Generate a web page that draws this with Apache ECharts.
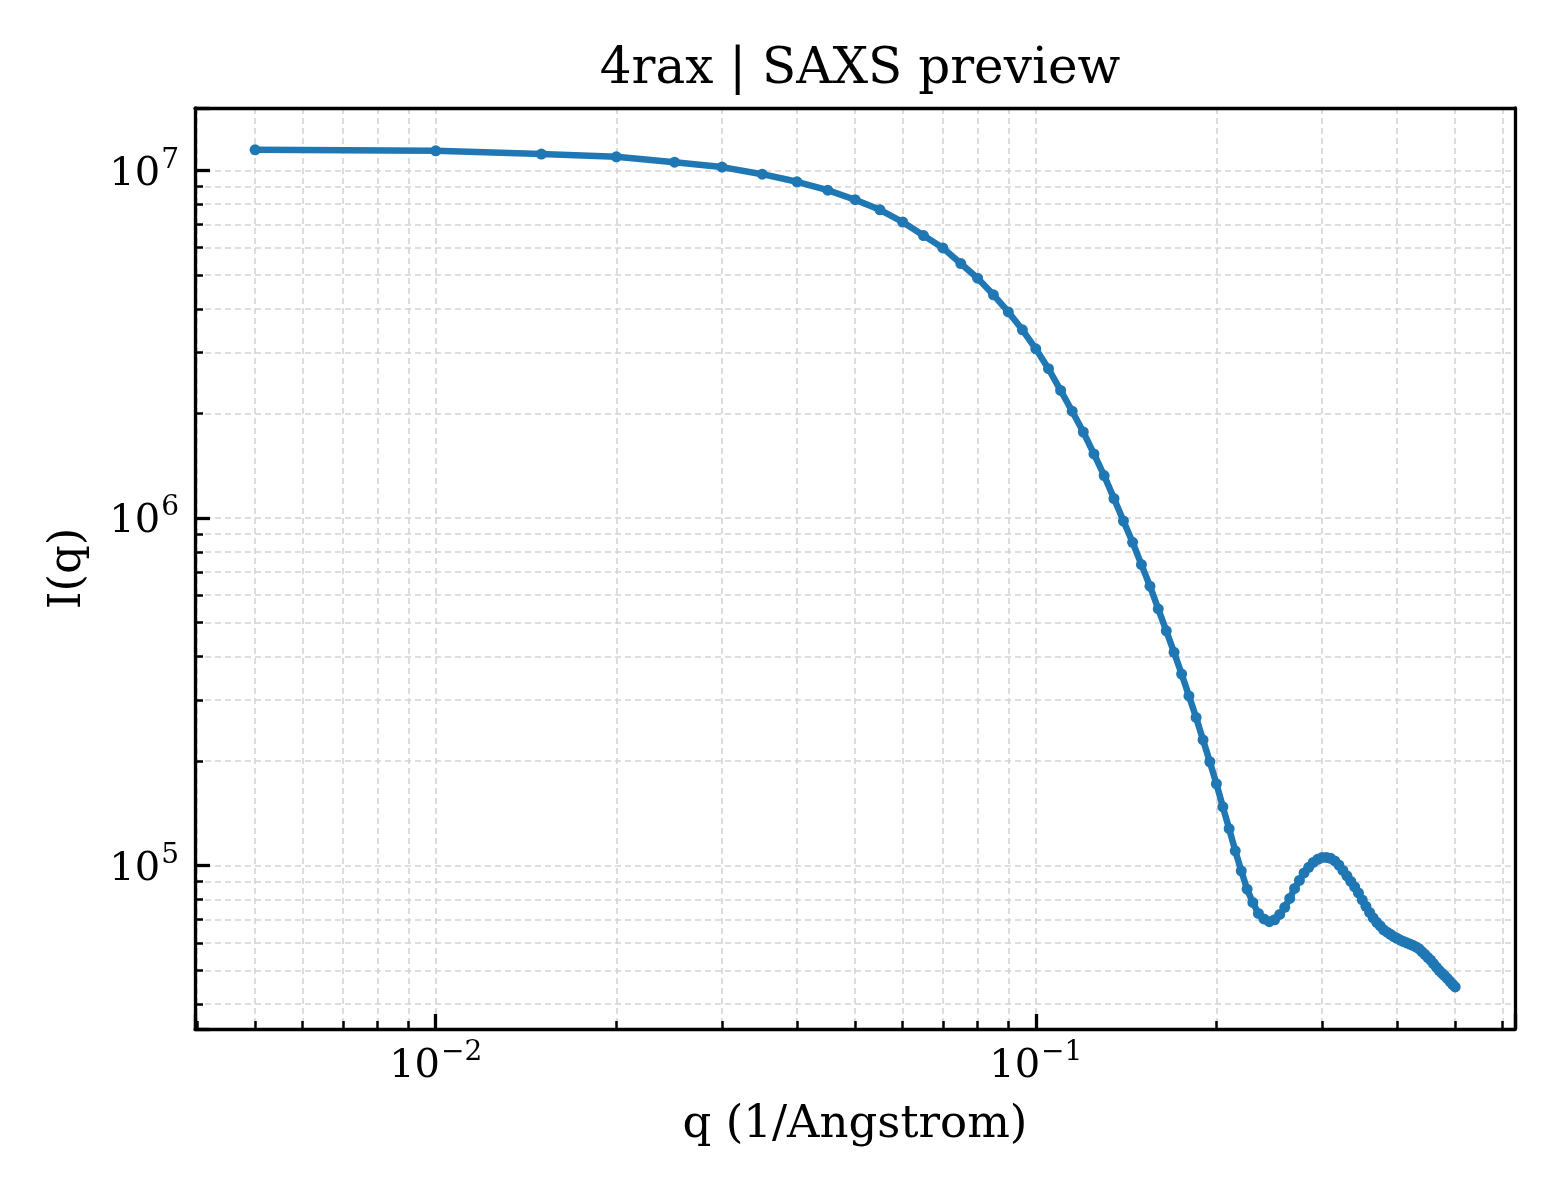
<!DOCTYPE html>
<html>
<head>
<meta charset="utf-8">
<title>4rax | SAXS preview</title>
<script src="https://cdn.jsdelivr.net/npm/echarts@6/dist/echarts.min.js"></script>
<style>
  html, body { margin: 0; padding: 0; background: #fff; }
  #chart { width: 1560px; height: 1200px; }
</style>
</head>
<body>
<div id="chart"></div>
<script>
// q (1/Angstrom)
const qValues = [
  0.005, 0.010, 0.015, 0.020, 0.025, 0.030, 0.035, 0.040, 0.045, 0.050,
  0.055, 0.060, 0.065, 0.070, 0.075, 0.080, 0.085, 0.090, 0.095, 0.100,
  0.105, 0.110, 0.115, 0.120, 0.125, 0.130, 0.135, 0.140, 0.145, 0.150,
  0.155, 0.160, 0.165, 0.170, 0.175, 0.180, 0.185, 0.190, 0.195, 0.200,
  0.205, 0.210, 0.215, 0.220, 0.225, 0.230, 0.235, 0.240, 0.245, 0.250,
  0.255, 0.260, 0.265, 0.270, 0.275, 0.280, 0.285, 0.290, 0.295, 0.300,
  0.305, 0.310, 0.315, 0.320, 0.325, 0.330, 0.335, 0.340, 0.345, 0.350,
  0.355, 0.360, 0.365, 0.370, 0.375, 0.380, 0.385, 0.390, 0.395, 0.400,
  0.405, 0.410, 0.415, 0.420, 0.425, 0.430, 0.435, 0.440, 0.445, 0.450,
  0.455, 0.460, 0.465, 0.470, 0.475, 0.480, 0.485, 0.490, 0.495, 0.500
]
// I(q)
const intensity = [
  1.147e7, 1.139e7, 1.115e7, 1.095e7, 1.057e7, 1.023e7, 9.76e6, 9.28e6, 8.78e6, 8.24e6,
  7.71e6, 7.11e6, 6.50e6, 5.99e6, 5.40e6, 4.90e6, 4.39e6, 3.92e6, 3.48e6, 3.07e6,
  2.69e6, 2.33e6, 2.03e6, 1.769e6, 1.530e6, 1.325e6, 1.138e6, 9.81e5, 8.52e5, 7.35e5,
  6.37e5, 5.48e5, 4.74e5, 4.11e5, 3.56e5, 3.08e5, 2.67e5, 2.30e5, 1.991e5, 1.721e5,
  1.477e5, 1.278e5, 1.104e5, 9.67e4, 8.56e4, 7.84e4, 7.29e4, 7.03e4, 6.90e4, 6.99e4,
  7.24e4, 7.59e4, 8.05e4, 8.60e4, 9.07e4, 9.53e4, 9.89e4, 1.022e5, 1.043e5, 1.056e5,
  1.056e5, 1.050e5, 1.032e5, 1.004e5, 9.69e4, 9.35e4, 9.01e4, 8.69e4, 8.35e4, 7.97e4,
  7.64e4, 7.34e4, 7.08e4, 6.87e4, 6.71e4, 6.54e4, 6.44e4, 6.35e4, 6.25e4, 6.18e4,
  6.11e4, 6.05e4, 6.00e4, 5.95e4, 5.90e4, 5.84e4, 5.77e4, 5.66e4, 5.56e4, 5.45e4,
  5.35e4, 5.23e4, 5.11e4, 5.00e4, 4.91e4, 4.83e4, 4.74e4, 4.65e4, 4.56e4, 4.48e4
]
// axis limits
const xRange = [0.00397, 0.629]
const yRange = [3.39e4, 1.513e7]

const serif = 'DejaVu Serif'
const gridColor = '#d4d4d4'

// only label the powers of ten, matplotlib style 10^n
function powLabel(v){
    let e = Math.log10(v)
    if (Math.abs(e - Math.round(e)) > 1e-6) return ''
    e = Math.round(e)
    return '{b|10}{s|' + String(e).replace('-', '\u2212') + '}'
}
const labelRich = {
    b: { fontFamily: serif, fontSize: 40, color: '#000', verticalAlign: 'bottom', lineHeight: 48 },
    s: { fontFamily: serif, fontSize: 28, color: '#000', verticalAlign: 'bottom', lineHeight: 48, padding: [0, 0, 20, 1] }
}

function logAxis(range, name, extra){
    return Object.assign({
        type: 'log',
        logBase: 10,
        min: range[0],
        max: range[1],
        name: name,
        nameLocation: 'middle',
        nameTextStyle: { fontFamily: serif, fontSize: 45, color: '#000' },
        axisLine: { show: true, lineStyle: { color: '#000', width: 3.3 } },
        axisTick: { show: true, inside: true, length: 15, lineStyle: { color: '#000', width: 3.3 } },
        minorTick: { show: true, splitNumber: 9, length: 8, lineStyle: { color: '#000', width: 2.5 } },
        splitLine: { show: true, lineStyle: { color: gridColor, width: 1.6, type: [6, 4] } },
        minorSplitLine: { show: true, lineStyle: { color: gridColor, width: 1.6, type: [6, 4] } }
    }, extra)
}

// plain spine for the top and right edges of the box
function spineAxis(range, pos){
    return {
        type: 'log',
        logBase: 10,
        min: range[0],
        max: range[1],
        position: pos,
        axisLine: { show: true, onZero: false, lineStyle: { color: '#000', width: 3.3 } },
        axisTick: { show: false },
        minorTick: { show: false },
        axisLabel: { show: false },
        splitLine: { show: false },
        minorSplitLine: { show: false }
    }
}

let myChart = echarts.init(document.getElementById('chart'), null, { renderer: 'canvas' })

let seriesData = qValues.map((q, i) => {
    return [q, intensity[i]]
})

let option = {
    animation: false,
    backgroundColor: '#fff',
    title: {
        text: '4rax | SAXS preview',
        left: 855,
        textAlign: 'center',
        top: 40,
        textStyle: { fontFamily: serif, fontSize: 50, fontWeight: 'normal', color: '#000' }
    },
    grid: {
        left: 195,
        top: 108,
        width: 1320,
        height: 921
    },
    xAxis: [
        logAxis(xRange, 'q (1/Angstrom)', {
            position: 'bottom',
            nameGap: 74,
            axisLabel: {
                formatter: powLabel,
                rich: labelRich,
                showMinLabel: false,
                showMaxLabel: false,
                margin: 10
            }
        }),
        spineAxis(xRange, 'top')
    ],
    yAxis: [
        logAxis(yRange, 'I(q)', {
            position: 'left',
            nameGap: 104,
            axisLabel: {
                formatter: powLabel,
                rich: labelRich,
                showMinLabel: false,
                showMaxLabel: false,
                margin: 16
            }
        }),
        spineAxis(yRange, 'right')
    ],
    series: [
        {
            name: 'I(q)',
            type: 'line',
            xAxisIndex: 0,
            yAxisIndex: 0,
            data: seriesData,
            symbol: 'circle',
            symbolSize: 11,
            showSymbol: true,
            lineStyle: { color: '#1f77b4', width: 6.5 },
            itemStyle: { color: '#1f77b4' },
            z: 5
        }
    ]
}
myChart.setOption(option)
</script>
</body>
</html>
